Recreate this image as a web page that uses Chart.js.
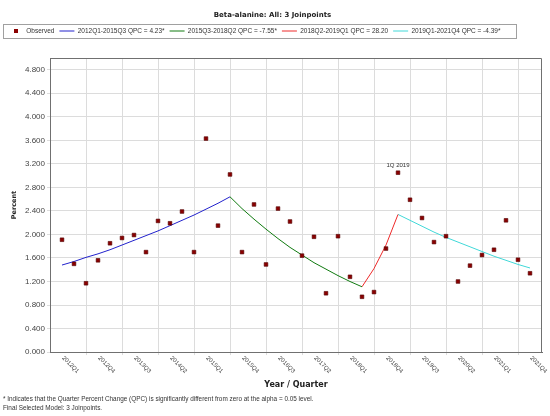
<!DOCTYPE html>
<html>
<head>
<meta charset="utf-8">
<script src="https://cdn.jsdelivr.net/npm/chart.js@4.4.0/dist/chart.umd.min.js"></script>
<style>
  html, body { margin: 0; padding: 0; background: #fff; }
  #wrap { width: 550px; height: 416px; }
</style>
</head>
<body>
<div id="wrap"><canvas id="myChart"></canvas></div>
<script>
var quarters = ['2012Q1','2012Q2','2012Q3','2012Q4','2013Q1','2013Q2','2013Q3','2013Q4',
  '2014Q1','2014Q2','2014Q3','2014Q4','2015Q1','2015Q2','2015Q3','2015Q4',
  '2016Q1','2016Q2','2016Q3','2016Q4','2017Q1','2017Q2','2017Q3','2017Q4',
  '2018Q1','2018Q2','2018Q3','2018Q4','2019Q1','2019Q2','2019Q3','2019Q4',
  '2020Q1','2020Q2','2020Q3','2020Q4','2021Q1','2021Q2','2021Q3','2021Q4'];

// observed percent per quarter
var observed = [1.91,1.50,1.17,1.56,1.85,1.94,1.99,1.70,2.23,2.19,2.39,1.70,3.63,2.15,3.02,
  1.70,2.51,1.49,2.44,2.22,1.64,1.96,1.00,1.97,1.28,0.94,1.02,
  1.76,3.05,2.59,2.28,1.87,1.97,1.20,1.47,1.65,1.74,2.24,1.57,1.34];

// joinpoint fitted segments (value per quarter from segment start)
var blueStart = '2012Q1';
var blueFit = [1.48,1.54,1.61,1.67,1.74,1.82,1.90,1.98,2.06,2.15,2.24,2.33,2.43,2.53,2.64];
var greenStart = '2015Q3';
var greenFit = [2.64,2.44,2.26,2.09,1.93,1.78,1.65,1.52,1.41,1.30,1.20,1.11];
var redStart = '2018Q2';
var redFit = [1.11,1.42,1.82,2.34];
var cyanStart = '2019Q1';
var cyanFit = [2.34,2.24,2.14,2.04,1.95,1.87,1.79,1.71,1.63,1.56,1.49,1.43];

var seriesNames = ['Observed','2012Q1-2015Q3 QPC = 4.23*','2015Q3-2018Q2 QPC = -7.55*',
  '2018Q2-2019Q1 QPC = 28.20','2019Q1-2021Q4 QPC = -4.39*'];

var xTickLabels = ['2012Q1','2012Q4','2013Q3','2014Q2','2015Q1','2015Q4','2016Q3',
  '2017Q2','2018Q1','2018Q4','2019Q3','2020Q2','2021Q1','2021Q4'];
var yTicks = [0,0.4,0.8,1.2,1.6,2.0,2.4,2.8,3.2,3.6,4.0,4.4,4.8];

var noteAt = '2019Q1';
var noteText = '1Q 2019';

function seg(start, vals) {
  var k = quarters.indexOf(start);
  return vals.map(function(v, i){ return {x: k + i, y: v}; });
}

Chart.defaults.font.family = '"Liberation Sans", Arial, sans-serif';
Chart.defaults.color = '#333';

// small square for the legend
var obsIcon = document.createElement('canvas');
obsIcon.width = 4; obsIcon.height = 4;
var ic = obsIcon.getContext('2d');
ic.fillStyle = '#8b0000'; ic.fillRect(0, 0, 4, 4);

var extras = {
  id: 'extras',
  afterDraw: function(chart) {
    var ctx = chart.ctx, a = chart.chartArea;
    var xs = chart.scales.x, ys = chart.scales.y;
    ctx.save();
    // top and right edge of frame
    ctx.strokeStyle = '#707070';
    ctx.lineWidth = 1;
    ctx.beginPath();
    ctx.moveTo(a.left, Math.round(a.top) + 0.5);
    ctx.lineTo(Math.round(a.right) - 0.5, Math.round(a.top) + 0.5);
    ctx.lineTo(Math.round(a.right) - 0.5, a.bottom);
    ctx.stroke();

    // legend frame
    var lg = chart.legend, hb = lg.legendHitBoxes, last = hb[hb.length - 1];
    var cy = hb[0].top + hb[0].height / 2;
    ctx.strokeStyle = '#a0a0a0';
    ctx.strokeRect(Math.round(lg.left) + 0.5, Math.round(cy - 7) + 0.5,
      Math.round(last.left + last.width + 16 - lg.left), 14);

    // slanted quarter labels
    ctx.font = '6px "Liberation Sans"';
    ctx.fillStyle = '#444';
    ctx.textAlign = 'left';
    ctx.textBaseline = 'middle';
    xTickLabels.forEach(function(lab){
      var px = xs.getPixelForValue(quarters.indexOf(lab));
      ctx.save();
      ctx.translate(px + 1, xs.top + 5);
      ctx.rotate(Math.PI / 4);
      ctx.fillText(lab, 0, 0);
      ctx.restore();
    });

    // point note
    var k = quarters.indexOf(noteAt);
    ctx.textAlign = 'center';
    ctx.fillStyle = '#333';
    ctx.fillText(noteText, xs.getPixelForValue(k), ys.getPixelForValue(observed[k]) - 7);
    ctx.restore();
  }
};

var ctx = document.getElementById('myChart');
var grafica = new Chart(ctx, {
  type: 'line',
  data: {
    datasets: [{
      label: seriesNames[0],
      data: observed.map(function(v, i){ return {x: i, y: v}; }),
      showLine: false,
      pointStyle: 'rect',
      pointRadius: 2.6,
      pointBackgroundColor: '#8b0000',
      pointBorderColor: '#500000',
      pointBorderWidth: 0.6,
      backgroundColor: '#8b0000',
      borderColor: '#8b0000'
    }, {
      label: seriesNames[1], data: seg(blueStart, blueFit),
      borderColor: '#2222cc', borderWidth: 1, pointRadius: 0, pointStyle: 'line', pointBorderWidth: 1
    }, {
      label: seriesNames[2], data: seg(greenStart, greenFit),
      borderColor: '#107a10', borderWidth: 1, pointRadius: 0, pointStyle: 'line', pointBorderWidth: 1
    }, {
      label: seriesNames[3], data: seg(redStart, redFit),
      borderColor: '#ee2a2a', borderWidth: 1, pointRadius: 0, pointStyle: 'line', pointBorderWidth: 1
    }, {
      label: seriesNames[4], data: seg(cyanStart, cyanFit),
      borderColor: '#40d8d8', borderWidth: 1, pointRadius: 0, pointStyle: 'line', pointBorderWidth: 1
    }]
  },
  options: {
    responsive: true,
    maintainAspectRatio: false,
    animation: false,
    layout: { padding: { left: 3, right: 8, top: 0, bottom: 3 } },
    scales: {
      x: {
        type: 'linear', min: -1, max: 40,
        afterBuildTicks: function(s){
          var t = [];
          for (var v = 2; v < 40; v += 3) t.push({value: v});
          s.ticks = t;
        },
        afterFit: function(s){ s.height = 43; },
        ticks: { display: false },
        grid: { color: '#dcdcdc', tickLength: 3 },
        border: { color: '#707070' },
        title: { display: true, text: 'Year / Quarter', color: '#222',
          font: { family: '"DejaVu Sans"', size: 8, weight: 'bold' },
          padding: { top: 0, bottom: 5 } }
      },
      xTop: {
        type: 'linear', position: 'top',
        ticks: { display: false },
        grid: { display: false },
        border: { display: false },
        afterFit: function(s){ s.height = 13.75; }
      },
      y: {
        min: 0, max: 5,
        afterBuildTicks: function(s){
          s.ticks = yTicks.map(function(v){ return {value: v}; });
        },
        afterFit: function(s){ s.width = 47; },
        ticks: { font: { size: 8 }, color: '#444', padding: 2,
          callback: function(v){ return Number(v).toFixed(3); } },
        grid: { color: '#dcdcdc', tickLength: 3 },
        border: { color: '#707070' },
        title: { display: true, text: 'Percent', color: '#222',
          font: { family: '"DejaVu Sans"', size: 6.5, weight: 'bold' },
          padding: { top: 7, bottom: 0 } }
      }
    },
    plugins: {
      tooltip: { enabled: false },
      title: {
        display: true,
        text: 'Beta-alanine: All: 3 Joinpoints',
        color: '#222',
        font: { family: '"DejaVu Sans"', size: 7, weight: 'bold' },
        padding: { top: 10.8, bottom: 3.55 }
      },
      subtitle: {
        display: true,
        position: 'bottom',
        align: 'start',
        text: ['* Indicates that the Quarter Percent Change (QPC) is significantly different from zero at the alpha = 0.05 level.',
               'Final Selected Model: 3 Joinpoints.'],
        color: '#333',
        font: { size: 6.4, lineHeight: 1.4 },
        padding: 0
      },
      legend: {
        position: 'top',
        align: 'start',
        labels: {
          usePointStyle: true,
          pointStyleWidth: 15,
          padding: 5,
          font: { size: 6.5 },
          color: '#333',
          generateLabels: function(chart){
            var items = Chart.defaults.plugins.legend.labels.generateLabels(chart);
            items[0].pointStyle = obsIcon;
            return items;
          }
        }
      }
    }
  },
  plugins: [extras]
});
</script>
</body>
</html>
